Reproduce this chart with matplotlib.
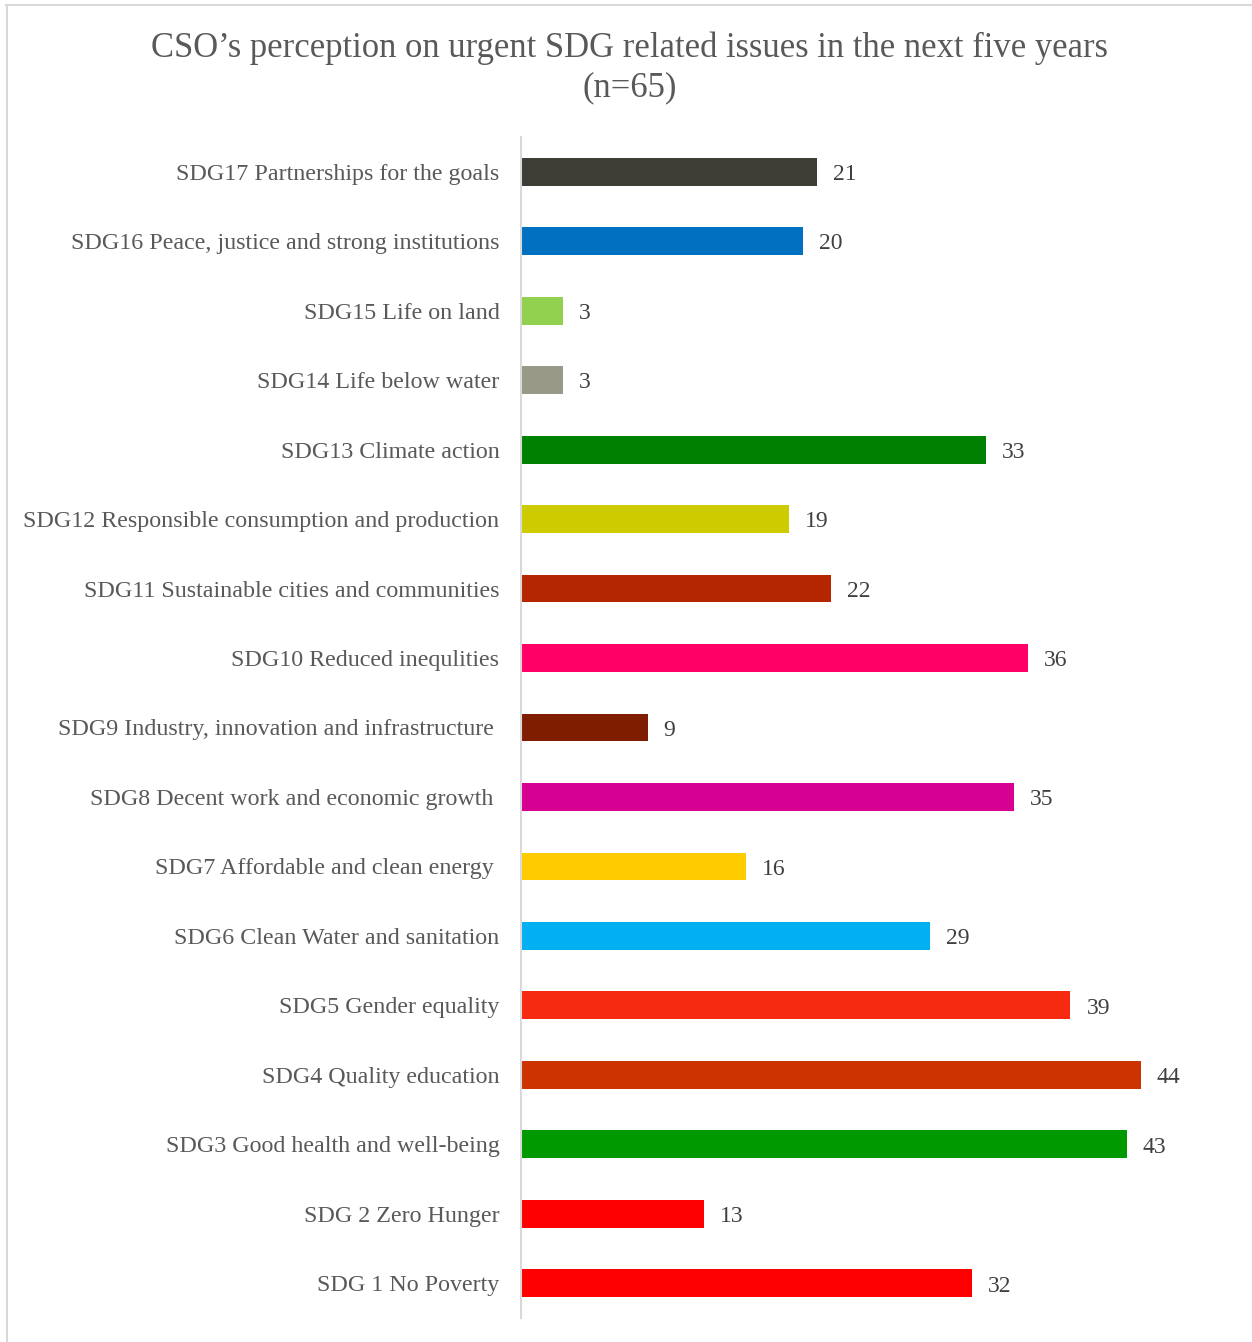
import matplotlib
matplotlib.use("Agg")
import matplotlib.pyplot as plt
from matplotlib.lines import Line2D

plt.rcParams["font.family"] = ["Liberation Serif", "DejaVu Serif"]

# bottom to top, as drawn on the y axis
labels = ["SDG 1 No Poverty", "SDG 2 Zero Hunger", "SDG3 Good health and well-being",
          "SDG4 Quality education", "SDG5 Gender equality", "SDG6 Clean Water and sanitation",
          "SDG7 Affordable and clean energy ", "SDG8 Decent work and economic growth ",
          "SDG9 Industry, innovation and infrastructure ", "SDG10 Reduced inequlities",
          "SDG11 Sustainable cities and communities", "SDG12 Responsible consumption and production",
          "SDG13 Climate action", "SDG14 Life below water", "SDG15 Life on land",
          "SDG16 Peace, justice and strong institutions", "SDG17 Partnerships for the goals"]
counts = [32, 13, 43, 44, 39, 29, 16, 35, 9, 36, 22, 19, 33, 3, 3, 20, 21]
colors = ["#FF0000", "#FF0000", "#009900", "#CC3300", "#F52A10", "#00B0F0",
          "#FFCC00", "#D60093", "#7F1D00", "#FF0066", "#B32600", "#CCCC00",
          "#008000", "#999988", "#92D050", "#0070C0", "#3D3D35"]

fig = plt.figure(figsize=(12.52, 13.42), dpi=100)
ax = fig.add_axes([0.4161, 0.0179, 0.5064, 0.8800])

y = range(len(labels))
bars = ax.barh(y, counts, height=0.4, color=colors)
for b, v in zip(bars, counts):
    ax.annotate(str(v), (b.get_width(), b.get_y() + b.get_height() / 2),
                xytext=(11.5, -2), textcoords="offset points",
                va="center", ha="left", fontsize=17, color="#404040")

ax.set_xlim(0, 45)
ax.set_ylim(-0.5, len(labels) - 0.5)
ax.set_yticks(list(y))
ax.set_yticklabels(labels, fontsize=17.3, color="#595959")
ax.tick_params(axis="y", length=0, pad=15.5)
ax.set_xticks([])
for side in ["top", "right", "bottom"]:
    ax.spines[side].set_visible(False)
ax.spines["left"].set_color("#D9D9D9")
ax.spines["left"].set_linewidth(1.5)

fig.text(0.503, 0.9495, "CSO\u2019s perception on urgent SDG related issues in the next five years\n(n=65)",
         ha="center", va="center", fontsize=24.9, color="#595959", linespacing=1.25)

# light chart frame
fig.add_artist(Line2D([0.005, 1.0], [0.9966, 0.9966], color="#D9D9D9", lw=1.5))
fig.add_artist(Line2D([0.0056, 0.0056], [0.0, 0.9966], color="#D9D9D9", lw=1.5))

fig.savefig("out.png", dpi=100)
